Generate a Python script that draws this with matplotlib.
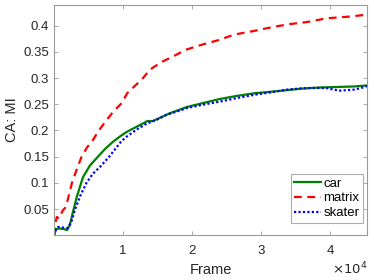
import numpy as np
from matplotlib import pyplot as plt

# frame positions and MI values
car_x = [0, 300, 800, 1400, 1900, 2300, 2700, 3300, 4200, 5200, 6500, 7500, 8500,
         9500, 10500, 11800, 13000, 13500, 14300, 15000, 16800, 19300, 21500, 24000,
         26500, 29000, 31500, 33800, 36000, 38500, 41000, 43500, 45400]
car_y = [0.0, 0.012, 0.013, 0.012, 0.010, 0.020, 0.042, 0.073, 0.111, 0.133, 0.152,
         0.166, 0.178, 0.188, 0.197, 0.206, 0.214, 0.218, 0.218, 0.222, 0.233, 0.245,
         0.252, 0.260, 0.266, 0.271, 0.274, 0.277, 0.280, 0.282, 0.283, 0.284, 0.286]

matrix_x = [0, 150, 400, 700, 1000, 1300, 1600, 2000, 2600, 3300, 4000, 4800, 5650,
            6400, 7500, 8600, 9800, 10600, 11800, 12900, 13900, 15500, 17200, 19100,
            21500, 24000, 26100, 29000, 31900, 34200, 36700, 39500, 42500, 45400]
matrix_y = [0.0, 0.02, 0.035, 0.032, 0.040, 0.048, 0.052, 0.068, 0.100, 0.126, 0.150,
            0.168, 0.182, 0.198, 0.218, 0.236, 0.252, 0.271, 0.286, 0.300, 0.316,
            0.330, 0.341, 0.354, 0.364, 0.373, 0.383, 0.390, 0.398, 0.403, 0.407,
            0.414, 0.417, 0.421]

skater_x = [0, 300, 600, 1200, 2000, 2500, 3000, 3800, 4700, 5600, 6700, 8000, 9800,
            10500, 12000, 13400, 14800, 16300, 17800, 19300, 21500, 24000, 26500,
            29000, 31500, 33800, 35500, 37100, 39500, 40500, 41500, 42500, 43500,
            44500, 45400]
skater_y = [0.0, 0.012, 0.016, 0.015, 0.014, 0.025, 0.048, 0.075, 0.100, 0.117,
            0.131, 0.150, 0.180, 0.188, 0.202, 0.213, 0.220, 0.230, 0.236, 0.243,
            0.249, 0.255, 0.262, 0.268, 0.273, 0.278, 0.280, 0.281, 0.281, 0.278,
            0.276, 0.277, 0.278, 0.281, 0.285]

xticks = [10000, 20000, 30000, 40000]
xtick_labels = ["1", "2", "3", "4"]
yticks = [0.05, 0.1, 0.15, 0.2, 0.25, 0.3, 0.35, 0.4]
ytick_labels = ["0.05", "0.1", "0.15", "0.2", "0.25", "0.3", "0.35", "0.4"]

plt.rcParams["font.family"] = ["Liberation Sans", "DejaVu Sans"]

fig = plt.figure(figsize=(3.74, 2.8), dpi=100)
ax = fig.add_axes([54 / 374, 1 - 235.3 / 280, (367.3 - 54) / 374, (235.3 - 4.7) / 280])

ax.plot(car_x, car_y, color="#008000", lw=1.6, ls="-", label="car")
ax.plot(matrix_x, matrix_y, color="#ff0000", lw=1.6, ls=(0, (3.5, 2.5)), label="matrix")
ax.plot(skater_x, skater_y, color="#0000ff", lw=1.6, ls=(0, (1, 1)), label="skater")

ax.set_xlim(0, 45400)
ax.set_ylim(0, 0.44)
ax.set_xticks(xticks)
ax.set_xticklabels(xtick_labels)
ax.set_yticks(yticks)
ax.set_yticklabels(ytick_labels)

grey = "#262626"
for s in ax.spines.values():
    s.set_color("#9a9a9a")
    s.set_linewidth(0.8)
ax.tick_params(direction="in", top=True, right=True, length=3, width=0.6,
               color="#9a9a9a", labelcolor=grey, labelsize=9.5)
ax.tick_params(axis="x", pad=7)

ax.set_xlabel("Frame", fontsize=10.5, color=grey, labelpad=4)
ax.set_ylabel("CA: MI", fontsize=10.5, color=grey, labelpad=3)
ax.text(1.0, -0.112, r"$\times10^4$", transform=ax.transAxes, ha="right",
        va="top", fontsize=9.5, color=grey)

leg = ax.legend(loc="lower right", bbox_to_anchor=(0.985, 0.055), fontsize=9.5,
                frameon=True, fancybox=False, borderpad=0.25, labelspacing=0.2,
                handlelength=2.0, handletextpad=0.2, borderaxespad=0.0)
leg.get_frame().set_edgecolor("#9a9a9a")
leg.get_frame().set_linewidth(0.8)

fig.savefig("out.png", dpi=100)
